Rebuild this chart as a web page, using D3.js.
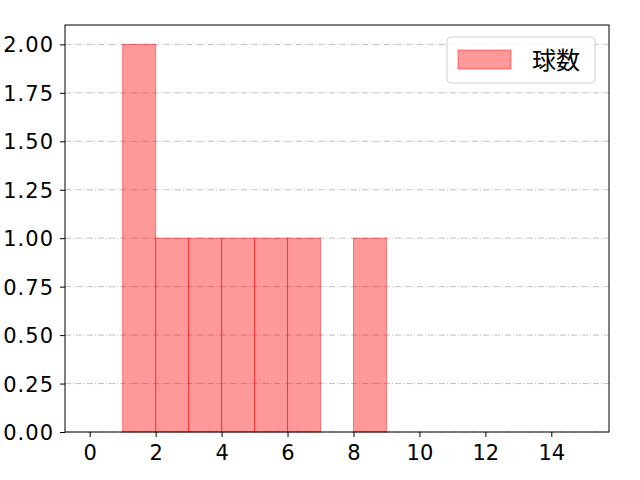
<!DOCTYPE html>
<html>
<head>
<meta charset="utf-8">
<script src="https://cdn.jsdelivr.net/npm/d3@7"></script>
<style>
body { margin: 0; background: #fff; }
text { font-family: "DejaVu Sans", sans-serif; }
</style>
</head>
<body>
<div id="chart"></div>
<script>
let width = 640;
let height = 480;

// histogram bins (left edge) and counts
let binStarts = [1, 2, 3, 4, 5, 6, 8];
let counts = [2, 1, 1, 1, 1, 1, 1];
let binWidth = 1;
let xTicks = [0, 2, 4, 6, 8, 10, 12, 14];
let yTicks = [0, 0.25, 0.5, 0.75, 1.0, 1.25, 1.5, 1.75, 2.0];
let seriesName = "球数";

let margin = {left: 65, right: 31, top: 25, bottom: 48};

let svg = d3.select("#chart").append("svg")
            .attr("width", width)
            .attr("height", height);

let x = d3.scaleLinear().domain([-0.75, 15.75]).range([margin.left, width - margin.right]);
let y = d3.scaleLinear().domain([0, 2.1]).range([height - margin.bottom, margin.top]);

//grid lines
svg.append("g").selectAll("line")
   .data(yTicks)
   .join("line")
   .attr("x1", margin.left).attr("x2", width - margin.right)
   .attr("y1", d => y(d)).attr("y2", d => y(d))
   .attr("stroke", "#b0b0b0")
   .attr("stroke-width", 0.8)
   .attr("stroke-dasharray", "6,2,1,2");

//bars
svg.append("g").selectAll("rect")
   .data(binStarts)
   .join("rect")
   .attr("x", d => x(d))
   .attr("width", d => x(d + binWidth) - x(d))
   .attr("y", (d, i) => y(counts[i]))
   .attr("height", (d, i) => y(0) - y(counts[i]))
   .attr("fill", "rgba(255,0,0,0.4)")
   .attr("stroke", "rgba(255,0,0,0.45)")
   .attr("stroke-width", 1);

//axes
let xAxis = svg.append("g")
   .attr("transform", "translate(0," + (height - margin.bottom) + ")")
   .call(d3.axisBottom(x).tickValues(xTicks).tickSize(5).tickFormat(d3.format("d")));
let yAxis = svg.append("g")
   .attr("transform", "translate(" + margin.left + ",0)")
   .call(d3.axisLeft(y).tickValues(yTicks).tickSize(5).tickPadding(6).tickFormat(d3.format(".2f")));

for (let ax of [xAxis, yAxis]) {
    ax.select(".domain").remove();
    ax.selectAll(".tick line").attr("stroke", "#000").attr("stroke-width", 1);
    ax.selectAll(".tick text").attr("font-size", 21).attr("fill", "#000")
      .style("font-family", "'DejaVu Sans', sans-serif");
}
xAxis.selectAll(".tick text").attr("y", 28).attr("dy", 0);
yAxis.selectAll(".tick text").attr("letter-spacing", 1).attr("dy", "0.36em");

//frame
svg.append("rect")
   .attr("x", margin.left).attr("y", margin.top)
   .attr("width", width - margin.left - margin.right)
   .attr("height", height - margin.top - margin.bottom)
   .attr("fill", "none").attr("stroke", "#000").attr("stroke-width", 1);

//legend
let legend = svg.append("g").attr("transform", "translate(447,37)");
legend.append("rect")
      .attr("width", 148).attr("height", 46).attr("rx", 4)
      .attr("fill", "rgba(255,255,255,0.8)")
      .attr("stroke", "#d0d0d0");
legend.append("rect")
      .attr("x", 11).attr("y", 13).attr("width", 53).attr("height", 19)
      .attr("fill", "rgba(255,0,0,0.4)")
      .attr("stroke", "rgba(255,0,0,0.45)");
legend.append("text")
      .attr("x", 85).attr("y", 32)
      .attr("font-size", 24)
      .style("font-family", "'Noto Sans CJK JP', sans-serif")
      .text(seriesName);
</script>
</body>
</html>
